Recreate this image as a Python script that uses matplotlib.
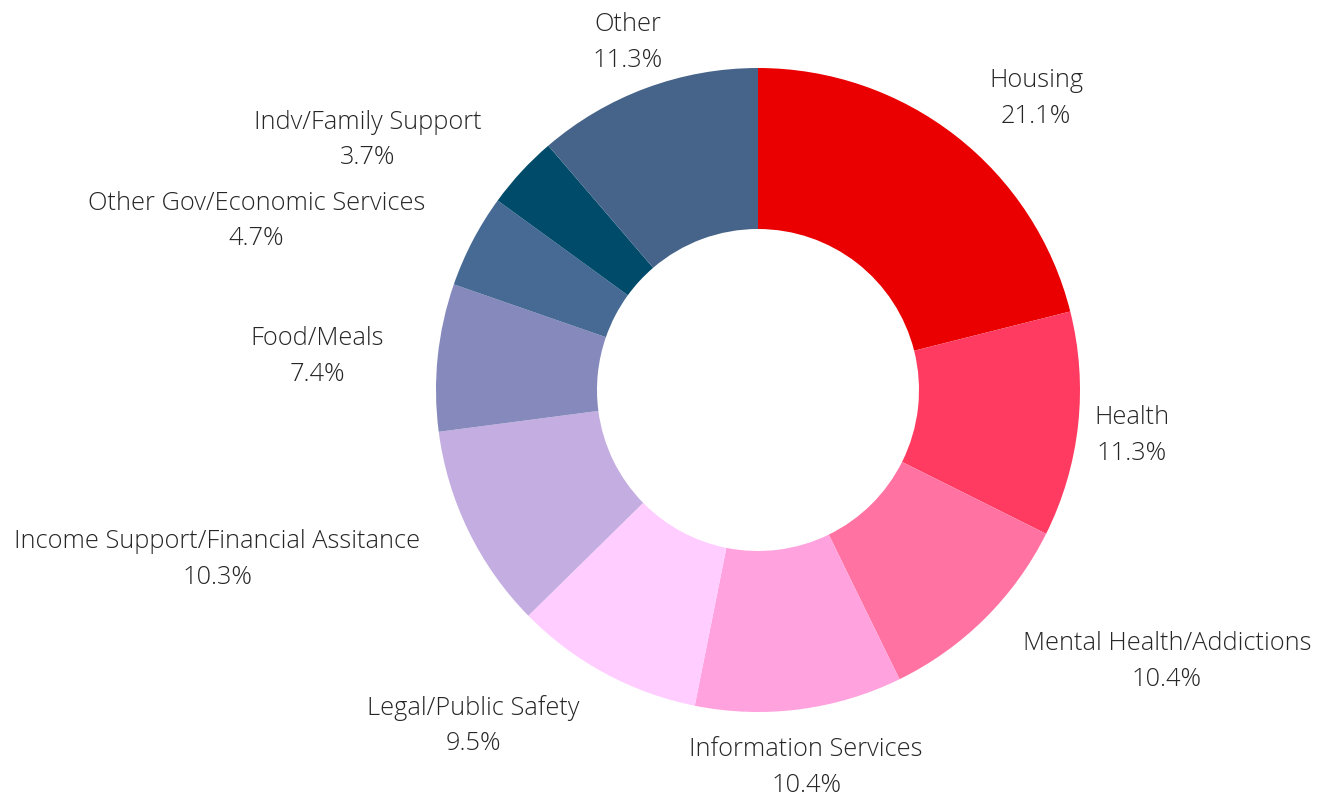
import numpy as np
import matplotlib
matplotlib.use("Agg")
import matplotlib.pyplot as plt

categories = ["Housing", "Health", "Mental Health/Addictions", "Information Services",
              "Legal/Public Safety", "Income Support/Financial Assitance", "Food/Meals",
              "Other Gov/Economic Services", "Indv/Family Support", "Other"]
shares = [21.1, 11.3, 10.4, 10.4, 9.5, 10.3, 7.4, 4.7, 3.7, 11.3]

colors = ["#EA0000", "#FF3B61", "#FF72A2", "#FFA2DE", "#FFCDFF",
          "#C4ADE1", "#8589BB", "#476A94", "#004A6A", "#466389"]
# horizontal alignment of each label around its anchor point
aligns = ["left", "center", "left", "center", "right",
          "right", "right", "right", "right", "center"]

plt.rcParams["font.family"] = ["Open Sans", "DejaVu Sans"]

fig = plt.figure(figsize=(13.28, 7.99), dpi=100)
ax = fig.add_axes([0, 0, 1, 1])

wedges, _ = ax.pie(shares, colors=colors, startangle=90, counterclock=False,
                   radius=1.0, wedgeprops=dict(width=0.5, linewidth=0))

label_r = 1.167
for w, cat, val, ha in zip(wedges, categories, shares, aligns):
    mid = np.deg2rad((w.theta1 + w.theta2) / 2)
    x, y = label_r * np.cos(mid), label_r * np.sin(mid)
    ax.annotate(f"{cat}\n{val:.1f}%", xy=(x, y), xytext=(0, -3.5),
                textcoords="offset points", ha=ha, va="center",
                multialignment="center", fontsize=18.3, fontweight="light",
                color="#262626", linespacing=1.55)

ax.set_xlim(-758 / 322, 570 / 322)
ax.set_ylim(-409 / 322, 390 / 322)
ax.set_aspect("auto")
ax.axis("off")

fig.savefig("out.png", dpi=100)
